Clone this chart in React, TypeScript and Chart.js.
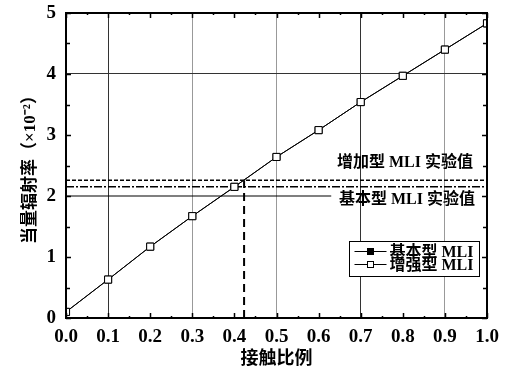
import React, { useEffect, useRef } from "react";
import { Chart, registerables } from "chart.js";
Chart.register(...registerables);

// ---- data ----
const contactRatio = [0, 0.1, 0.2, 0.3, 0.4, 0.5, 0.6, 0.7, 0.8, 0.9, 1.0];
const basicMLI = [0.1, 0.63, 1.17, 1.67, 2.15, 2.64, 3.08, 3.54, 3.97, 4.4, 4.83];
const enhancedMLI = [0.1, 0.63, 1.17, 1.67, 2.15, 2.64, 3.08, 3.54, 3.97, 4.4, 4.83];
const basicExpValue = 2.0;
const basicExpLineEnd = 0.63;
const enhancedExpValue = 2.26;
const crossLevel = 2.15;
const crossRatio = 0.423;
const xTickLabels = ["0.0", "0.1", "0.2", "0.3", "0.4", "0.5", "0.6", "0.7", "0.8", "0.9", "1.0"];
const yTickLabels = ["0", "1", "2", "3", "4", "5"];
const seriesNames = ["基本型 MLI", "增强型 MLI"];
const expLabels = ["增加型 MLI 实验值", "基本型 MLI 实验值"];
// label anchor positions (data coords)
const expLabelAnchors = [
  { x: 0.805, y: 2.55 },
  { x: 0.81, y: 1.93 },
];

const FONT = '"Liberation Serif", "Noto Sans CJK SC", serif';

const decorPlugin = {
  id: "decor",
  afterDraw(chart: any) {
    const { ctx, chartArea, scales } = chart;
    const { left, right, top, bottom } = chartArea;
    const xs = scales.x;
    const ys = scales.y;
    ctx.save();
    ctx.strokeStyle = "#000";
    // inward ticks
    ctx.lineWidth = 1.5;
    for (let i = 0; i <= 20; i++) {
      const px = Math.round(xs.getPixelForValue(i * 0.05)) + 0.5;
      const len = i % 2 === 0 ? 5 : 2;
      ctx.beginPath();
      ctx.moveTo(px, bottom);
      ctx.lineTo(px, bottom - len);
      ctx.moveTo(px, top);
      ctx.lineTo(px, top + len);
      ctx.stroke();
    }
    for (let i = 0; i <= 10; i++) {
      const py = Math.round(ys.getPixelForValue(i * 0.5)) + 0.5;
      const len = i % 2 === 0 ? 5 : 4;
      ctx.beginPath();
      ctx.moveTo(left, py);
      ctx.lineTo(left + len, py);
      ctx.moveTo(right, py);
      ctx.lineTo(right - len, py);
      ctx.stroke();
    }
    // frame
    ctx.lineWidth = 2;
    ctx.strokeRect(left, top, right - left, bottom - top);

    // experiment labels
    ctx.fillStyle = "#000";
    ctx.font = "bold 16px " + FONT;
    ctx.textAlign = "center";
    ctx.textBaseline = "middle";
    expLabels.forEach((t, i) => {
      const a = expLabelAnchors[i];
      ctx.fillText(t, xs.getPixelForValue(a.x), ys.getPixelForValue(a.y));
    });

    // legend
    const bx = right - 137.5;
    const by = 241.5;
    const bw = 130;
    const bh = 35;
    ctx.fillStyle = "#fff";
    ctx.fillRect(bx, by, bw, bh);
    ctx.lineWidth = 1;
    ctx.strokeStyle = "#000";
    ctx.strokeRect(bx, by, bw, bh);
    seriesNames.forEach((name, i) => {
      const ry = by + 10 + i * 13;
      ctx.beginPath();
      ctx.moveTo(bx + 5, ry);
      ctx.lineTo(bx + 37, ry);
      ctx.stroke();
      const mx = bx + 21;
      ctx.fillStyle = i === 0 ? "#000" : "#fff";
      ctx.fillRect(mx - 3, ry - 3, 6, 6);
      ctx.strokeRect(mx - 3, ry - 3, 6, 6);
      ctx.fillStyle = "#000";
      ctx.textAlign = "left";
      ctx.textBaseline = "middle";
      ctx.font = "bold 16px " + FONT;
      ctx.fillText(name, bx + 40, ry + 1);
    });
    ctx.restore();
  },
};

export default function App() {
  const ref = useRef<HTMLCanvasElement>(null);
  useEffect(() => {
    document.body.style.margin = "0";
    const canvas = ref.current!;
    const refLine = (pts: { x: number; y: number }[], dash: number[], width: number) => ({
      data: pts,
      borderColor: "#000",
      borderWidth: width,
      borderDash: dash,
      pointRadius: 0,
      fill: false,
      tension: 0,
    });
    const chart = new Chart(canvas, {
      type: "line",
      data: {
        datasets: [
          {
            label: seriesNames[1],
            data: contactRatio.map((x, i) => ({ x, y: enhancedMLI[i] })),
            borderColor: "#000",
            borderWidth: 1,
            pointStyle: "rect",
            pointRadius: 5,
            pointBackgroundColor: "#fff",
            pointBorderColor: "#000",
            pointBorderWidth: 1,
            tension: 0,
            fill: false,
          },
          {
            label: seriesNames[0],
            data: contactRatio.map((x, i) => ({ x, y: basicMLI[i] })),
            borderColor: "#000",
            borderWidth: 1,
            pointStyle: "rect",
            pointRadius: 5,
            pointBackgroundColor: "#000",
            pointBorderColor: "#000",
            pointBorderWidth: 1,
            tension: 0,
            fill: false,
          },
          refLine([{ x: 0, y: basicExpValue }, { x: basicExpLineEnd, y: basicExpValue }], [], 1.2),
          refLine([{ x: 0, y: crossLevel }, { x: 1, y: crossLevel }], [8, 2, 2, 2], 1.5),
          refLine([{ x: 0, y: enhancedExpValue }, { x: 1, y: enhancedExpValue }], [4, 2], 1.5),
          refLine([{ x: crossRatio, y: 0 }, { x: crossRatio, y: enhancedExpValue }], [8, 5], 2),
        ] as any,
      },
      options: {
        animation: false,
        responsive: false,
        devicePixelRatio: 1,
        layout: { padding: { top: 13, right: 18, left: 0, bottom: 0 } },
        plugins: { legend: { display: false }, tooltip: { enabled: false } },
        scales: {
          x: {
            type: "linear",
            min: 0,
            max: 1,
            ticks: {
              stepSize: 0.1,
              autoSkip: false,
              maxRotation: 0,
              padding: 8,
              color: "#000",
              font: { family: FONT, size: 19, weight: "bold" },
              callback: (v: any) => xTickLabels[Math.round(Number(v) * 10)] ?? "",
            },
            grid: {
              drawTicks: false,
              lineWidth: 1,
              color: (c: any) => {
                const k = Math.round(c.tick?.value * 10);
                if (k === 1 || k === 7) return "#333";
                if (k === 3 || k === 5 || k === 9) return "#999";
                return "rgba(0,0,0,0)";
              },
            },
            border: { display: false },
            title: {
              display: true,
              text: "接触比例",
              color: "#000",
              font: { family: FONT, size: 18, weight: "bold" },
              padding: { top: 0, bottom: 4 },
            },
            afterFit: (s: any) => {
              s.height = 56;
              s.paddingLeft = 0;
              s.paddingRight = 0;
            },
          } as any,
          y: {
            type: "linear",
            min: 0,
            max: 5,
            ticks: {
              stepSize: 1,
              padding: 10,
              color: "#000",
              font: { family: FONT, size: 19, weight: "bold" },
              callback: (v: any) => yTickLabels[Math.round(Number(v))] ?? "",
            },
            grid: {
              drawTicks: false,
              lineWidth: 1,
              color: (c: any) => (Math.round(c.tick?.value) === 4 ? "#333" : "rgba(0,0,0,0)"),
            },
            border: { display: false },
            title: {
              display: true,
              text: "当量辐射率（×10⁻²）",
              color: "#000",
              font: { family: FONT, size: 17, weight: "bold" },
              padding: { top: 20, bottom: 0 },
            },
            afterFit: (s: any) => {
              s.width = 66;
              s.paddingTop = 0;
              s.paddingBottom = 0;
            },
          } as any,
        },
      },
      plugins: [decorPlugin],
    });
    return () => chart.destroy();
  }, []);
  return <canvas ref={ref} width={505} height={374} style={{ display: "block" }} />;
}
